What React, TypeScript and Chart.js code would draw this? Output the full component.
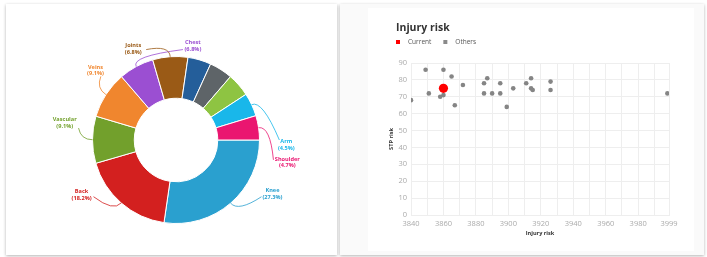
import React, { useEffect, useRef } from 'react';
import { Chart, registerables } from 'chart.js';

Chart.register(...registerables);
Chart.defaults.font.family = '"Open Sans", sans-serif';

// ---------- Donut data ----------
const injuryLabels = ['Knee', 'Back', 'Vascular', 'Veins', 'Chest', 'Joints', 'Head', 'Hip', 'Hand', 'Arm', 'Shoulder'];
const injuryShares = [27.3, 18.2, 9.1, 9.1, 6.8, 6.8, 4.5, 4.5, 4.5, 4.5, 4.7];
const injuryColors = ['#2aa0cf', '#d3201f', '#72a02c', '#f0862e', '#9b4fd2', '#9a5a16', '#245e9a', '#5e6468', '#8ec442', '#19b7ea', '#ea1670'];
const labelledInjuries = ['Knee', 'Back', 'Vascular', 'Veins', 'Chest', 'Joints', 'Arm', 'Shoulder'];

// label placement (in units of the outer radius, relative to the donut centre):
// [textX, textY, connectorEndX, connectorEndY]
const labelPlacement: Record<string, number[]> = {
  Knee: [1.155, 0.649, 1.024, 0.679],
  Back: [-1.131, 0.661, -0.988, 0.679],
  Vascular: [-1.333, -0.202, -1.167, -0.143],
  Veins: [-0.964, -0.833, -0.9, -0.762],
  Joints: [-0.512, -1.089, -0.357, -1.083],
  Chest: [0.202, -1.131, 0.083, -1.083],
  Arm: [1.321, 0.06, 1.238, 0.0],
  Shoulder: [1.333, 0.268, 1.167, 0.238],
};

// ---------- Scatter data ----------
const currentX = [3860];
const currentY = [75];
const othersX = [3840, 3849, 3851, 3858, 3860, 3860, 3865, 3867, 3872, 3885, 3885, 3887, 3890, 3895, 3895, 3899, 3903, 3911, 3914, 3914, 3915, 3926, 3926, 3998];
const othersY = [68, 86, 72, 70, 71, 86, 82, 65, 77, 78, 72, 81, 72, 78, 72, 64, 75, 78, 81, 75, 74, 79, 74, 72];
const xTickValues = [3840, 3850, 3860, 3870, 3880, 3890, 3900, 3910, 3920, 3930, 3940, 3950, 3960, 3970, 3980, 3990, 3999];

const donutLabelsPlugin = {
  id: 'donutLabels',
  afterDatasetsDraw(chart: any) {
    const meta = chart.getDatasetMeta(0);
    const ctx = chart.ctx;
    meta.data.forEach((arc: any, i: number) => {
      const name = injuryLabels[i];
      if (!labelledInjuries.includes(name)) return;
      const place = labelPlacement[name];
      const { x, y, startAngle, endAngle, outerRadius } = arc.getProps(['x', 'y', 'startAngle', 'endAngle', 'outerRadius'], true);
      const mid = (startAngle + endAngle) / 2;
      const R = outerRadius;
      const ax = x + Math.cos(mid) * R;
      const ay = y + Math.sin(mid) * R;
      const cx = x + Math.cos(mid) * R * 1.14;
      const cy = y + Math.sin(mid) * R * 1.14;
      const ex = x + place[2] * R;
      const ey = y + place[3] * R;
      ctx.save();
      ctx.strokeStyle = injuryColors[i];
      ctx.lineWidth = 0.8;
      ctx.beginPath();
      ctx.moveTo(ax, ay);
      ctx.quadraticCurveTo(cx, cy, ex, ey);
      ctx.stroke();
      ctx.fillStyle = injuryColors[i];
      ctx.font = 'bold 5.6px "Open Sans", sans-serif';
      ctx.textAlign = 'center';
      ctx.textBaseline = 'middle';
      const tx = x + place[0] * R;
      const ty = y + place[1] * R;
      ctx.fillText(name, tx, ty - 3.4);
      ctx.fillText('(' + injuryShares[i].toFixed(1) + '%)', tx, ty + 3.4);
      ctx.restore();
    });
  },
};

const headerPlugin = {
  id: 'header',
  afterDraw(chart: any) {
    const ctx = chart.ctx;
    const left = chart.chartArea.left - 15;
    ctx.save();
    ctx.fillStyle = '#333333';
    ctx.font = 'bold 10.5px "Open Sans", sans-serif';
    ctx.textAlign = 'left';
    ctx.textBaseline = 'middle';
    ctx.fillText('Injury risk', left, 24);
    const items = [
      { text: 'Current', color: '#ff0000' },
      { text: 'Others', color: '#8a8a8a' },
    ];
    ctx.font = '6.5px "Open Sans", sans-serif';
    let x = left;
    const y = 38;
    items.forEach((it) => {
      ctx.fillStyle = it.color;
      ctx.fillRect(x, y - 2, 4, 4);
      ctx.fillStyle = '#555555';
      ctx.fillText(it.text, x + 12, y);
      x += 12 + ctx.measureText(it.text).width + 12;
    });
    ctx.restore();
  },
};

function DonutChart() {
  const ref = useRef<HTMLCanvasElement>(null);
  useEffect(() => {
    const chart = new Chart(ref.current!, {
      type: 'doughnut',
      data: {
        labels: injuryLabels,
        datasets: [
          {
            data: injuryShares,
            backgroundColor: injuryColors,
            borderColor: '#ffffff',
            borderWidth: 1,
          },
        ],
      },
      options: {
        responsive: false,
        animation: false,
        rotation: 90,
        cutout: '50%',
        layout: { padding: { top: 56, bottom: 33, left: 92, right: 80 } },
        plugins: { legend: { display: false }, tooltip: { enabled: false } },
      },
      plugins: [donutLabelsPlugin],
    });
    return () => chart.destroy();
  }, []);
  return <canvas ref={ref} width={340} height={257} style={{ position: 'absolute', left: 0, top: 0 }} />;
}

function ScatterChart() {
  const ref = useRef<HTMLCanvasElement>(null);
  useEffect(() => {
    const grid = '#eeeeee';
    const chart = new Chart(ref.current!, {
      type: 'scatter',
      data: {
        datasets: [
          {
            label: 'Current',
            data: currentX.map((v, i) => ({ x: v, y: currentY[i] })),
            backgroundColor: '#ff0000',
            borderColor: '#ff0000',
            pointRadius: 4.6,
            borderWidth: 0,
          },
          {
            label: 'Others',
            data: othersX.map((v, i) => ({ x: v, y: othersY[i] })),
            backgroundColor: '#858585',
            borderColor: '#858585',
            pointRadius: 2.3,
            borderWidth: 0,
          },
        ],
      },
      options: {
        responsive: false,
        animation: false,
        layout: { padding: { top: 59, left: 40, right: 34, bottom: 12 } },
        plugins: { legend: { display: false }, tooltip: { enabled: false }, title: { display: false } },
        scales: {
          x: {
            type: 'linear',
            min: 3840,
            max: 3999,
            afterBuildTicks: (scale: any) => {
              scale.ticks = xTickValues.map((v) => ({ value: v }));
            },
            afterFit: (scale: any) => {
              scale.height = 28;
            },
            ticks: {
              autoSkip: false,
              maxRotation: 0,
              padding: 4,
              color: '#aaaaaa',
              font: { size: 7.5 },
              callback: (v: any) => (v % 20 === 0 || v === 3999 ? String(v) : ''),
            },
            grid: { color: grid, drawTicks: false },
            border: { color: grid },
            title: {
              display: true,
              text: 'Injury risk',
              color: '#333333',
              font: { size: 5.6, weight: 'bold' },
              padding: { top: 6, bottom: 6 },
            },
          },
          y: {
            min: 0,
            max: 90,
            afterFit: (scale: any) => {
              scale.width = 31;
            },
            ticks: { stepSize: 10, padding: 4, color: '#aaaaaa', font: { size: 7.5 } },
            grid: { color: grid, drawTicks: false },
            border: { color: grid },
            title: {
              display: true,
              text: 'STP risk',
              color: '#333333',
              font: { size: 5.6, weight: 'bold' },
              padding: { top: 8, bottom: 8 },
            },
          },
        },
      },
      plugins: [headerPlugin],
    });
    return () => chart.destroy();
  }, []);
  return <canvas ref={ref} width={363} height={251} style={{ position: 'absolute', left: 0, top: 0 }} />;
}

export default function App() {
  return (
    <div style={{ position: 'relative', width: 707, height: 257, background: '#ffffff', overflow: 'hidden' }}>
      <style>{'body{margin:0;background:#fff;}'}</style>
      <div
        style={{
          position: 'absolute',
          left: 6,
          top: 4,
          width: 331,
          height: 251,
          background: '#ffffff',
          boxShadow: '0 1px 3px rgba(0,0,0,0.3)',
        }}
      />
      <div
        style={{
          position: 'absolute',
          left: 340,
          top: 4,
          width: 364,
          height: 251,
          background: '#fafafa',
          boxShadow: '0 1px 3px rgba(0,0,0,0.3)',
        }}
      >
        <div style={{ position: 'absolute', left: 28, top: 4, right: 10, bottom: 4, background: '#ffffff' }} />
        <ScatterChart />
      </div>
      <DonutChart />
    </div>
  );
}
